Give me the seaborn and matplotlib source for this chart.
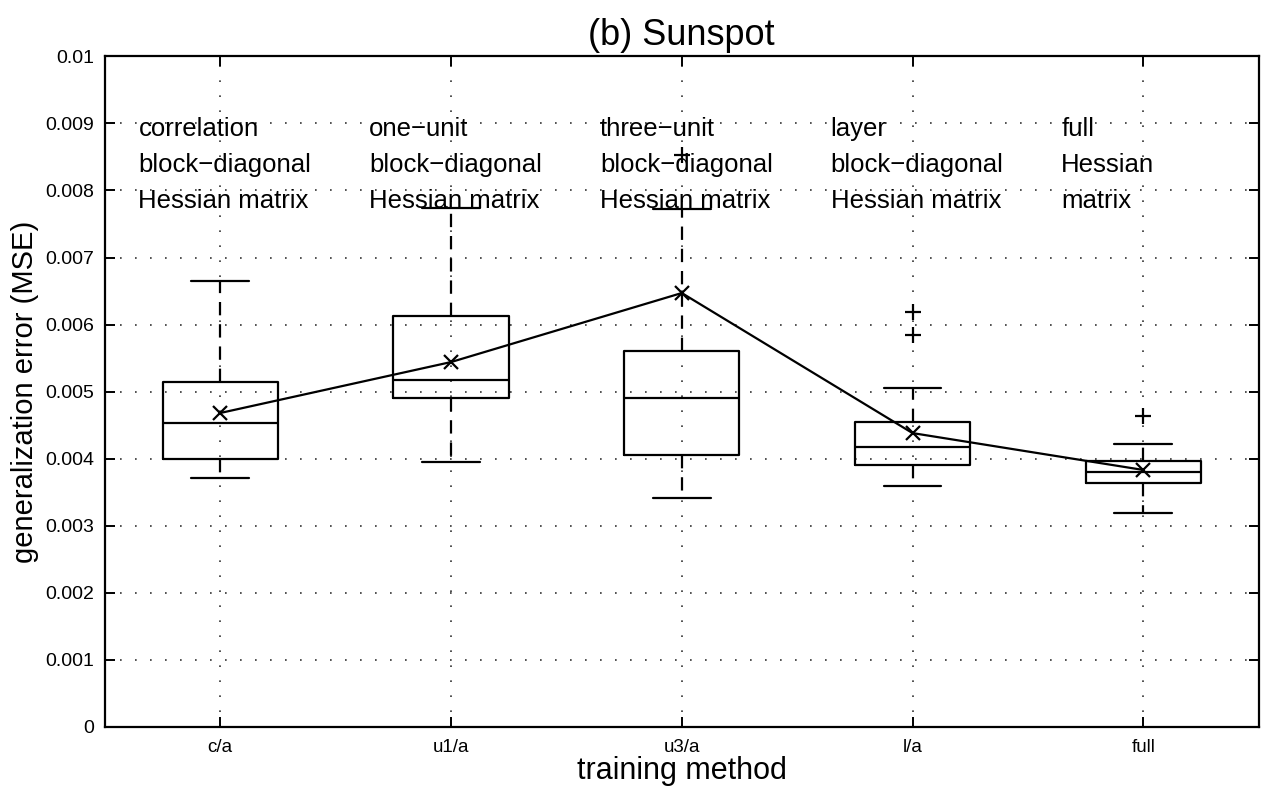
import matplotlib
matplotlib.use("Agg")
import matplotlib.pyplot as plt
import seaborn as sns
import pandas as pd

methods = ["c/a", "u1/a", "u3/a", "l/a", "full"]
whislo = [0.00371, 0.00395, 0.00341, 0.00359, 0.00319]
q1 = [0.00400, 0.00491, 0.00405, 0.00391, 0.00364]
med = [0.00453, 0.00517, 0.00491, 0.00417, 0.00380]
q3 = [0.00514, 0.00612, 0.00561, 0.00455, 0.00397]
whishi = [0.00665, 0.00774, 0.00772, 0.00505, 0.00421]
means = [0.00468, 0.00544, 0.00647, 0.00438, 0.00383]
outliers = [[], [], [0.00853], [0.00585, 0.00618], [0.00464]]
notes = [
    ["correlation", "block\u2212diagonal", "Hessian matrix"],
    ["one\u2212unit", "block\u2212diagonal", "Hessian matrix"],
    ["three\u2212unit", "block\u2212diagonal", "Hessian matrix"],
    ["layer", "block\u2212diagonal", "Hessian matrix"],
    ["full", "Hessian", "matrix"],
]
note_rows = [0.00892, 0.00838, 0.00785]

sns.set_theme(style="white")
plt.rcParams["font.family"] = ["Liberation Sans", "DejaVu Sans"]
plt.rcParams.update({"text.color": "black", "axes.labelcolor": "black",
                     "xtick.color": "black", "ytick.color": "black"})

fig = plt.figure(figsize=(12.72, 7.95), dpi=100)
ax = fig.add_axes([0.0825, 0.086, 0.907, 0.843])

stats = []
for i, m in enumerate(methods):
    stats.append(dict(label=m, whislo=whislo[i], q1=q1[i], med=med[i], q3=q3[i],
                      whishi=whishi[i], fliers=outliers[i], mean=means[i]))

ax.bxp(stats, positions=range(len(methods)), widths=0.5, showfliers=True,
       boxprops=dict(color="black", linewidth=1.6),
       medianprops=dict(color="black", linewidth=1.6),
       whiskerprops=dict(color="black", linewidth=1.6, linestyle=(0, (6, 4))),
       capprops=dict(color="black", linewidth=1.6),
       flierprops=dict(marker="+", markersize=12, markeredgecolor="black", markeredgewidth=1.6),
       zorder=3)

df = pd.DataFrame({"pos": range(len(methods)), "mean": means})
sns.lineplot(data=df, x="pos", y="mean", ax=ax, color="black", linewidth=1.6,
             marker="x", markersize=10, markeredgewidth=1.6, markeredgecolor="black",
             zorder=4)

for i, lines in enumerate(notes):
    for yv, t in zip(note_rows, lines):
        ax.text(i - 0.355, yv, t, fontsize=18.5, va="center", ha="left", color="black", zorder=5)

ax.set_xlim(-0.5, 4.5)
ax.set_ylim(0, 0.01)
ax.set_xticks(range(len(methods)))
ax.set_xticklabels(methods)
ax.set_yticks([i / 1000 for i in range(11)])
ax.set_yticklabels(["0"] + [f"{i/1000:.3f}" for i in range(1, 10)] + ["0.01"])
ax.tick_params(axis="both", direction="in", length=7, width=1.4, color="black",
               labelcolor="black", top=True, right=True, left=True, bottom=True, pad=8)
ax.tick_params(axis="y", labelsize=14)
ax.tick_params(axis="x", labelsize=13.5, pad=9)
ax.grid(True, color="black", linestyle=(0, (1, 8)), linewidth=1.2, alpha=0.8)
for s in ax.spines.values():
    s.set_color("black")
    s.set_linewidth(1.6)
    s.set_visible(True)

ax.set_title("(b) Sunspot", fontsize=26, pad=8, color="black")
ax.set_xlabel("training method", fontsize=22, labelpad=0, color="black")
ax.set_ylabel("generalization error (MSE)", fontsize=21, labelpad=4, color="black")

fig.savefig("out.png", dpi=100, facecolor="white")
